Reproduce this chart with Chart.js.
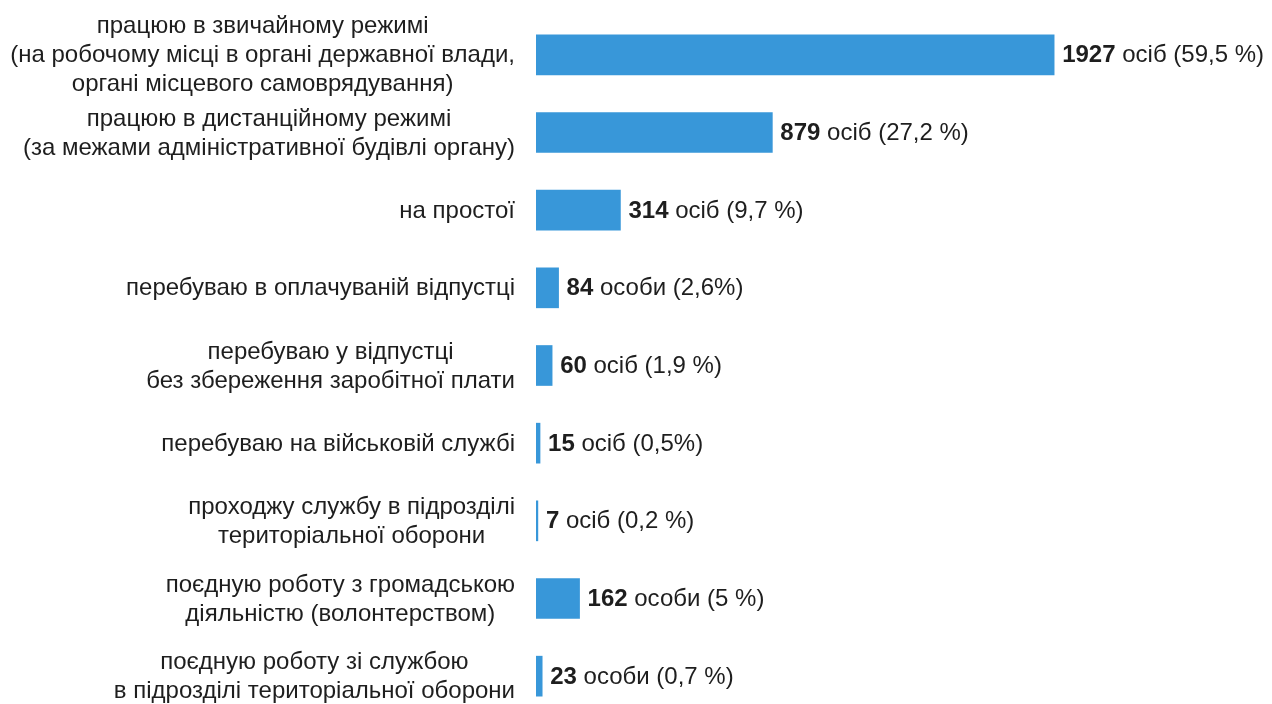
<!DOCTYPE html>
<html>
<head>
<meta charset="utf-8">
<script src="https://cdn.jsdelivr.net/npm/chart.js@4"></script>
<style>
  html, body { margin: 0; padding: 0; background: #fff; overflow: hidden; }
  #wrap { width: 1272px; height: 715px; position: relative; }
</style>
</head>
<body>
<div id="wrap"><canvas id="chart"></canvas></div>
<script>
const categories = [
  ['працюю в звичайному режимі', '(на робочому місці в органі державної влади,', 'органі місцевого самоврядування)'],
  ['працюю в дистанційному режимі', '(за межами адміністративної будівлі органу)'],
  ['на простої'],
  ['перебуваю в оплачуваній відпустці'],
  ['перебуваю у відпустці', 'без збереження заробітної плати'],
  ['перебуваю на військовій службі'],
  ['проходжу службу в підрозділі', 'територіальної оборони'],
  ['поєдную роботу з громадською', 'діяльністю (волонтерством)'],
  ['поєдную роботу зі службою', 'в підрозділі територіальної оборони']
];
const values = [1927, 879, 314, 84, 60, 15, 7, 162, 23];
const units = ['осіб', 'осіб', 'осіб', 'особи', 'осіб', 'осіб', 'осіб', 'особи', 'особи'];
const percents = ['(59,5 %)', '(27,2 %)', '(9,7 %)', '(2,6%)', '(1,9 %)', '(0,5%)', '(0,2 %)', '(5 %)', '(0,7 %)'];

const FONT = '"Liberation Sans", Arial, sans-serif';
const SIZE = 24;

// category labels: each block centred on itself, right edge against the bars
const leftLabels = {
  id: 'leftLabels',
  afterDraw(chart) {
    const ctx = chart.ctx;
    const y = chart.scales.y;
    const right = chart.chartArea.left - 21;
    const lh = 29;
    ctx.save();
    ctx.font = SIZE + 'px ' + FONT;
    ctx.fillStyle = '#1e1e1e';
    ctx.textAlign = 'center';
    ctx.textBaseline = 'middle';
    categories.forEach((lines, i) => {
      const w = Math.max(...lines.map(l => ctx.measureText(l).width));
      const cx = right - w / 2;
      const cy = y.getPixelForValue(i) + 1;
      const top = cy - (lines.length - 1) * lh / 2;
      lines.forEach((l, k) => ctx.fillText(l, cx, top + k * lh));
    });
    ctx.restore();
  }
};

// value labels at the end of each bar
const valueLabels = {
  id: 'valueLabels',
  afterDatasetsDraw(chart) {
    const ctx = chart.ctx;
    const meta = chart.getDatasetMeta(0);
    ctx.save();
    ctx.fillStyle = '#1e1e1e';
    ctx.textBaseline = 'middle';
    ctx.textAlign = 'left';
    meta.data.forEach((bar, i) => {
      let x = bar.x + 8;
      const yy = bar.y + 1;
      ctx.font = 'bold ' + SIZE + 'px ' + FONT;
      const num = String(values[i]);
      ctx.fillText(num, x, yy);
      x += ctx.measureText(num).width;
      ctx.font = SIZE + 'px ' + FONT;
      ctx.fillText(' ' + units[i] + ' ' + percents[i], x, yy);
    });
    ctx.restore();
  }
};

new Chart(document.getElementById('chart'), {
  type: 'bar',
  data: {
    labels: categories,
    datasets: [{
      data: values,
      backgroundColor: '#3897d9',
      borderWidth: 0,
      barThickness: 40
    }]
  },
  options: {
    indexAxis: 'y',
    responsive: true,
    maintainAspectRatio: false,
    animation: false,
    layout: { padding: { left: 536, right: 10, top: 16, bottom: 0 } },
    plugins: { legend: { display: false }, tooltip: { enabled: false } },
    scales: {
      x: { display: false, min: 0, max: 2700 },
      y: { display: false }
    }
  },
  plugins: [leftLabels, valueLabels]
});
</script>
</body>
</html>
